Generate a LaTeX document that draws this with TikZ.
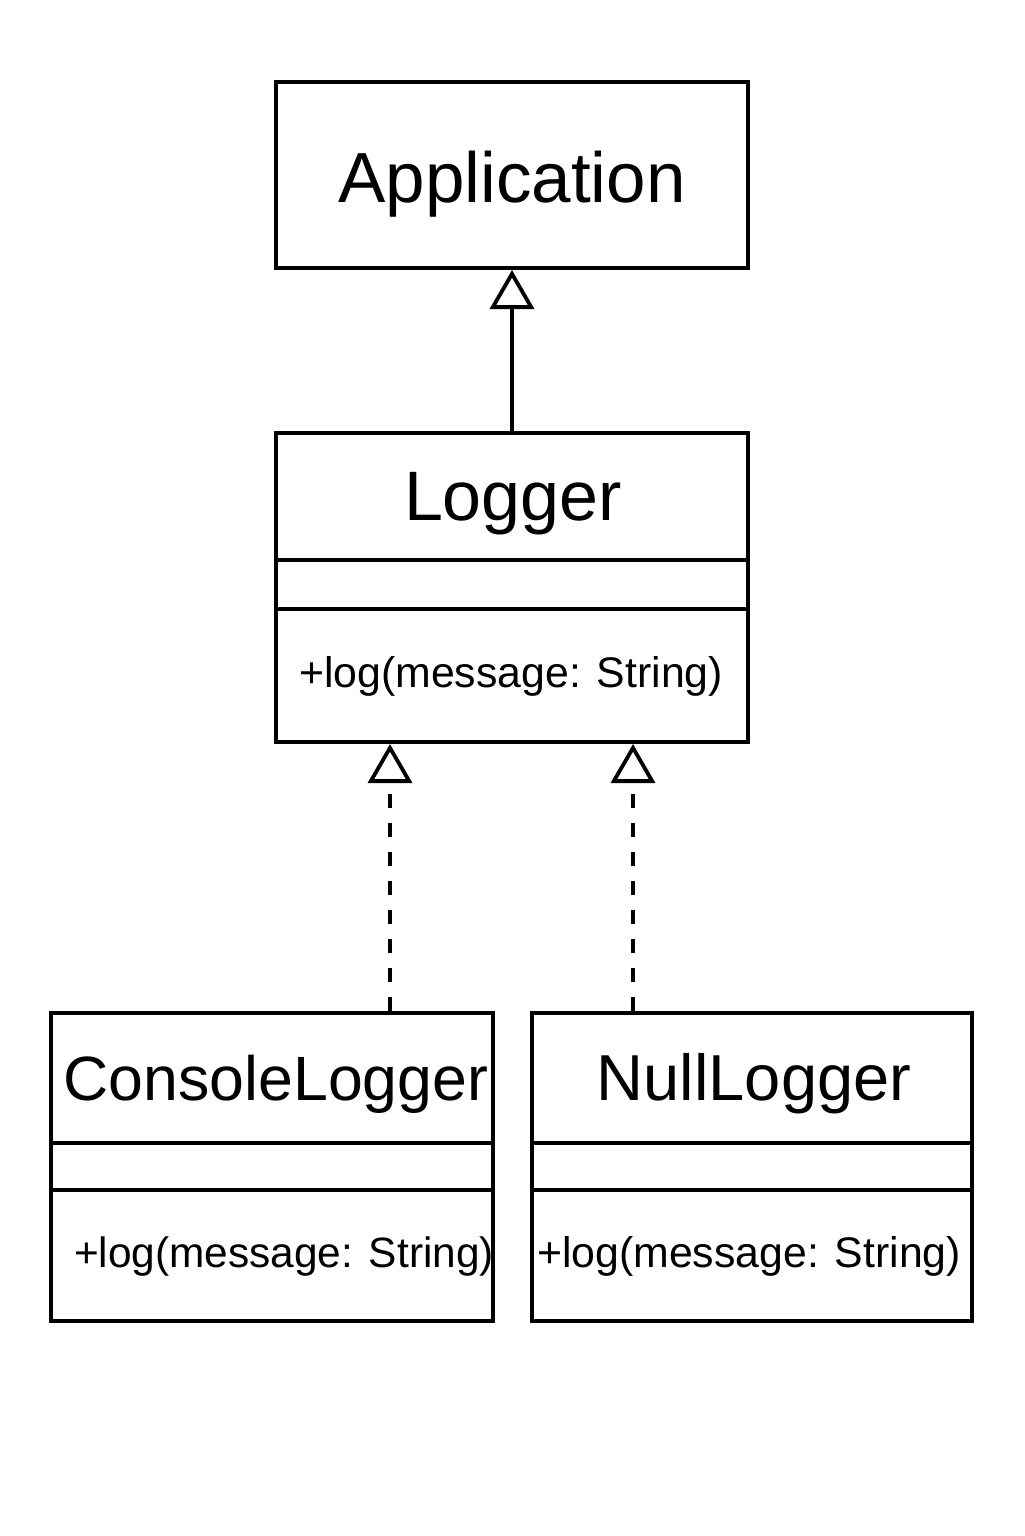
\documentclass[tikz,border=0pt]{standalone}
\usepackage{fontspec}
\setmainfont{Liberation Sans}
\usetikzlibrary{arrows.meta,positioning}
\newcommand\fsz[1]{\fontsize{#1}{#1}\selectfont}

\begin{document}
\begin{tikzpicture}[x=0.5pt,y=-0.5pt,line width=2pt,
    umlbox/.style={draw,rectangle,inner sep=0pt},
    title/.style={anchor=base,inner sep=0pt,font=\fsz{35.5}},
    subtitle/.style={anchor=base,inner sep=0pt,font=\fsz{31.5}},
    method/.style={anchor=base,inner sep=0pt,font=\fsz{21.4}},
    inherit/.style={-{Triangle[open,length=19.5pt,width=22pt]},line width=1.9pt},
    realize/.style={inherit,dash pattern=on 7pt off 7.5pt}]%
        %\draw[step=50,color=gray,very thin] (0,0) grid (1024,1536);%%
        \useasboundingbox[fill=white] (0,0) rectangle (1024,1536); %%
        \begin{scope}
        \tikzstyle{every node}=[umlbox] %%
        \node[minimum width=236pt,minimum height=93pt] (app) at (512,175)  {}; %%
        \node[minimum width=236pt,minimum height=154.5pt] (log) at (512,587.5)  {}; %%
        \node[minimum width=221pt,minimum height=154pt] (con) at (272,1167)  {}; %%
        \node[minimum width=220pt,minimum height=154pt] (nul) at (752,1167)  {}; %%
        \end{scope}
        % compartments
        \draw (log.west |- 0,560)--(log.east |- 0,560); %%
        \draw (log.west |- 0,609)--(log.east |- 0,609); %%
        \draw (con.west |- 0,1143)--(con.east |- 0,1143); %%
        \draw (con.west |- 0,1190)--(con.east |- 0,1190); %%
        \draw (nul.west |- 0,1143)--(nul.east |- 0,1143); %%
        \draw (nul.west |- 0,1190)--(nul.east |- 0,1190); %%
        % texts
        \node[title] (appname) at (512,202)  {Application}; %%
        \node[title,font=\fsz{35}] (logname) at (513,520)  {Logger}; %%
        \node[method] (logop) at (511,687)  {+log(message: String)}; %%
        \node[subtitle,font=\fsz{31.3}] (conname) at (276,1100)  {ConsoleLogger}; %%
        \node[method,font=\fsz{21.2}] (conop) at (284,1267)  {+log(message: String)}; %%
        \node[subtitle,font=\fsz{32.5}] (nulname) at (754,1100)  {NullLogger}; %%
        \node[method] (nulop) at (749,1267)  {+log(message: String)}; %%
        % relations
        \draw[inherit] (log.north)--(app.south); %%
        \draw[realize] (con.north -| 390,0)--(log.south -| 390,0); %%
        \draw[realize] (nul.north -| 633,0)--(log.south -| 633,0); %%
        \end{tikzpicture}
\end{document}
